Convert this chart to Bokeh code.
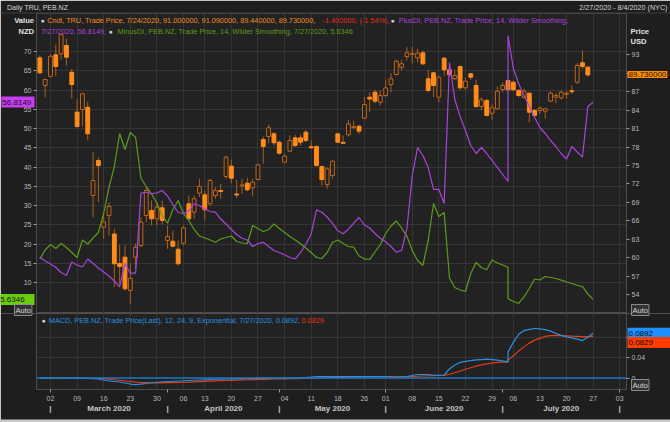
import numpy as np
import pandas as pd
from bokeh.plotting import figure
from bokeh.models import (ColumnDataSource, Range1d, LinearAxis, FixedTicker, Label, Span)
from bokeh.layouts import column, row
from bokeh.embed import file_html
from bokeh.resources import INLINE

# ---------------- data ----------------
# TRU daily candles, 2020-02-27 .. 2020-07-24 (US trading days)
opens = [92.51, 88.01, 89.47, 93.00, 93.16, 94.51, 90.17, 83.69, 84.11, 84.48, 70.12, 75.81, 64.97, 66.87, 63.86, 59.07, 60.09, 54.68, 60.09, 61.99,
         66.87, 67.68, 66.33, 68.12, 62.81, 62.69, 61.39, 62.37, 68.77, 67.41, 70.50, 70.24, 68.77, 70.12, 70.94, 73.21, 74.89, 70.37, 71.67, 72.12,
         71.37, 72.72, 79.23, 79.71, 80.15, 78.79, 75.54, 77.33, 79.50, 79.50, 80.41, 78.06, 78.09, 74.83, 71.91, 73.37, 80.15, 78.77, 80.00, 81.15,
         81.39, 82.69, 86.11, 86.92, 85.29, 86.38, 88.17, 89.80, 90.98, 92.72, 93.08, 92.51, 93.33, 89.10, 90.07, 86.11, 92.45, 90.56, 89.10, 91.10,
         87.63, 89.91, 88.01, 84.59, 85.57, 83.50, 84.22, 87.36, 88.82, 88.54, 87.20, 86.11, 86.76, 83.94, 83.94, 83.83, 85.46, 86.11, 86.01, 86.58,
         87.16, 88.54, 91.70, 91.00]
highs = [92.89, 89.10, 93.05, 94.67, 96.41, 95.60, 90.72, 85.73, 86.82, 85.41, 77.16, 76.35, 67.03, 68.98, 64.71, 62.15, 61.99, 59.02, 62.32, 66.59,
         71.47, 69.31, 69.03, 69.31, 65.24, 64.43, 62.81, 65.24, 70.12, 70.12, 72.84, 70.94, 72.84, 71.47, 72.02, 76.63, 75.93, 72.67, 72.84, 73.00,
         72.84, 75.28, 79.71, 81.67, 80.41, 79.07, 76.90, 79.88, 80.04, 80.04, 80.80, 79.07, 78.25, 74.99, 74.72, 75.81, 80.25, 79.88, 82.43, 82.32,
         81.62, 86.11, 86.92, 87.31, 87.20, 88.94, 90.01, 92.19, 92.19, 94.24, 94.30, 93.98, 93.70, 90.56, 90.17, 89.63, 92.61, 91.54, 90.56, 91.26,
         89.26, 90.07, 88.94, 86.11, 85.85, 84.92, 87.85, 88.54, 88.94, 88.82, 87.47, 87.47, 86.92, 84.22, 84.59, 84.38, 87.08, 86.76, 87.20, 87.08,
         88.01, 91.63, 93.70, 91.09]
lows = [89.91, 86.11, 89.36, 89.52, 92.19, 91.26, 85.85, 81.13, 81.39, 79.07, 66.59, 69.03, 63.08, 63.62, 55.21, 55.65, 54.68, 52.51, 58.25, 61.71,
        65.78, 65.24, 65.24, 65.41, 61.45, 61.71, 58.74, 61.99, 66.06, 66.33, 69.85, 66.06, 68.50, 69.59, 69.59, 72.84, 72.12, 69.68, 70.40, 70.82,
        69.96, 72.56, 75.28, 78.63, 78.25, 76.79, 75.37, 77.16, 77.98, 78.25, 78.79, 77.71, 74.83, 71.75, 71.21, 72.84, 78.63, 78.53, 79.71, 80.97,
        80.15, 82.59, 83.67, 85.13, 84.76, 86.11, 86.92, 89.63, 90.45, 92.07, 91.59, 91.80, 91.31, 86.92, 86.11, 85.29, 89.63, 89.36, 88.94, 87.31,
        87.31, 88.94, 84.38, 83.94, 82.97, 82.43, 84.06, 86.92, 87.20, 87.08, 86.11, 85.85, 82.04, 82.85, 83.41, 82.59, 85.29, 85.13, 85.68, 85.85,
        86.66, 88.28, 90.72, 89.44]
closes = [90.07, 88.98, 92.77, 91.10, 96.30, 92.61, 88.17, 81.34, 86.66, 80.15, 72.56, 74.99, 65.81, 68.33, 59.02, 58.58, 54.95, 56.63, 61.71, 65.78,
          70.94, 66.33, 68.22, 66.06, 63.46, 61.88, 59.02, 64.87, 66.33, 69.59, 71.59, 67.80, 72.56, 70.94, 70.77, 76.35, 72.94, 70.20, 71.83, 71.05,
          72.29, 75.11, 78.09, 81.13, 78.69, 77.00, 76.51, 79.07, 78.25, 78.79, 79.07, 77.89, 74.99, 72.72, 74.46, 75.70, 78.79, 78.61, 81.78, 81.31,
          80.58, 84.92, 85.81, 85.46, 86.38, 87.63, 89.10, 91.96, 91.54, 93.33, 93.24, 93.26, 91.54, 87.20, 88.01, 89.36, 90.56, 89.75, 89.63, 87.63,
          88.71, 89.36, 84.59, 85.68, 83.13, 84.38, 87.08, 88.01, 87.31, 87.31, 86.38, 87.08, 83.67, 83.13, 84.32, 84.22, 86.76, 86.38, 86.92, 86.74,
          87.00, 91.26, 91.10, 89.73]

# PEB.NZ indicators, 2020-02-27 .. 2020-07-27 (includes NZ trading day 2020-07-03)
plus_di = [16.63, 15.59, 14.82, 13.91, 12.61, 11.83, 15.34, 14.56, 14.04, 16.12, 14.95, 13.78, 12.74, 11.70, 10.40, 8.85, 14.95, 12.43, 12.43,
           33.20, 33.44, 33.07, 33.25, 33.90, 32.48, 30.27, 28.19, 27.93, 28.58, 30.45, 30.01, 29.10, 28.45, 28.27, 26.50, 25.21, 23.78, 22.48, 21.49,
           21.05, 19.36, 20.14, 20.45, 19.36, 18.32, 17.80, 17.21, 16.51, 16.12, 17.80, 19.88, 22.61, 28.89, 28.24, 27.02, 25.39, 23.44, 22.69, 23.86,
           25.44, 26.89, 24.95, 24.17, 22.74, 21.52, 20.61, 19.36, 17.91, 18.32, 24.04, 37.80, 45.07, 42.99, 39.88, 34.17, 34.17, 30.53, 67.15, 57.54,
           53.12, 49.49, 45.59, 43.51, 45.07, 43.51, 41.70, 39.88, 38.06, 36.24, 74.16,
           65.59, 61.69, 58.58, 55.85, 52.86, 50.27, 48.71, 46.89, 45.33, 43.51, 42.09, 45.33, 43.90, 42.61, 55.72, 56.8149]
minus_di = [16.12, 18.45, 19.88, 18.84, 20.14, 19.10, 17.80, 16.51, 21.05, 20.01, 21.57, 23.00, 27.93, 34.69, 40.14, 48.71, 44.55, 48.97, 47.67,
            37.15, 34.95, 33.00, 30.66, 27.41, 25.42, 28.97, 31.31, 27.93, 26.11, 23.78, 22.09, 21.57, 21.05, 20.48, 21.31, 21.70, 22.09, 20.66, 20.27,
            20.14, 24.81, 24.04, 23.26, 23.78, 25.21, 24.04, 23.00, 21.96, 21.05, 20.06, 18.97, 17.80, 16.51, 16.24, 17.80, 20.40, 21.05, 20.14, 19.36,
            19.18, 16.89, 16.17, 15.99, 17.93, 19.88, 22.74, 24.68, 25.98, 24.17, 22.00, 18.32, 15.73, 14.43, 20.92, 30.53, 27.15, 28.19, 11.18, 8.71,
            8.06, 7.67, 12.35, 15.20, 13.91, 13.31, 15.85, 15.07, 14.56, 13.98, 5.78,
            5.08, 4.56, 6.25, 8.46, 10.92, 10.66, 11.57, 11.31, 11.05, 10.61, 10.14, 9.75, 9.29, 8.92, 7.03, 5.6346]
macd = [0.0003, 0.0002, 0.0001, 0.0, 0.0, -0.0002, -0.0004, -0.0006, -0.0008, -0.0010, -0.0012,
        -0.002, -0.004, -0.006, -0.007, -0.008, -0.010, -0.012, -0.013, -0.012, -0.011, -0.0095, -0.0085, -0.0075, -0.007,
        -0.0065, -0.006, -0.0055, -0.005, -0.0045, -0.004, -0.0035, -0.003, -0.0025, -0.0022, -0.002, -0.0017, -0.0014, -0.0012,
        -0.001, -0.0009, -0.0008, -0.0007, -0.0006, -0.0005, -0.0004, -0.0003, -0.0002, 0.0, 0.0003, 0.001, 0.002, 0.003, 0.003,
        0.003, 0.003, 0.003, 0.003, 0.003, 0.003, 0.003, 0.003, 0.003, 0.003, 0.003, 0.003, 0.002, 0.002, 0.002, 0.003, 0.005,
        0.007, 0.007, 0.007, 0.0055, 0.0055, 0.006, 0.018, 0.026, 0.031, 0.033, 0.0345, 0.036, 0.0368, 0.0375, 0.0368, 0.0355,
        0.034, 0.0323, 0.052,
        0.071, 0.087, 0.0945, 0.097, 0.0986, 0.098, 0.0965, 0.0935, 0.089, 0.085, 0.082, 0.080, 0.0775, 0.0745, 0.081, 0.0892]
signal = [0.0003, 0.0003, 0.0002, 0.0001, 0.0, 0.0, -0.0001, -0.0002, -0.0003, -0.0005, -0.0007,
          -0.001, -0.0015, -0.0025, -0.0035, -0.0045, -0.0058, -0.007, -0.0082, -0.009, -0.0094, -0.0096, -0.0096, -0.0096, -0.0094,
          -0.0092, -0.009, -0.0087, -0.0083, -0.0078, -0.0073, -0.0068, -0.0063, -0.0058, -0.0054, -0.005, -0.0046, -0.0042, -0.0038,
          -0.0035, -0.0032, -0.0029, -0.0026, -0.0023, -0.002, -0.0018, -0.0016, -0.0014, -0.0012, -0.001, -0.0008, -0.0005, 0.0, 0.0005,
          0.0008, 0.001, 0.0012, 0.0014, 0.0016, 0.0018, 0.002, 0.0022, 0.0023, 0.0024, 0.0025, 0.0026, 0.0026, 0.0025, 0.0024, 0.0025,
          0.003, 0.0035, 0.004, 0.0045, 0.0048, 0.005, 0.0052, 0.0075, 0.0105, 0.014, 0.0175, 0.0205, 0.0235, 0.026, 0.028, 0.0295, 0.031,
          0.0318, 0.0323, 0.036,
          0.044, 0.054, 0.062, 0.0695, 0.0755, 0.079, 0.083, 0.0845, 0.0848, 0.0845, 0.0841, 0.0835, 0.083, 0.0825, 0.0825, 0.0829]

month_names = ["March 2020", "April 2020", "May 2020", "June 2020", "July 2020"]

# ---------------- calendar / x positions ----------------
bdays = pd.bdate_range("2020-02-20", "2020-08-10")
us_holidays = pd.to_datetime(["2020-04-10", "2020-05-25", "2020-07-03"])
cal = bdays[~bdays.isin(us_holidays)]
origin = cal.get_loc(pd.Timestamp("2020-03-02"))


def pos(dates):
    d = pd.DatetimeIndex(pd.to_datetime(dates))
    return np.searchsorted(cal.values, d.values, side="right") - 1 - origin


candle_dates = cal[(cal >= "2020-02-27") & (cal <= "2020-07-24")]
ind_dates = cal[(cal >= "2020-02-27") & (cal <= "2020-07-27")].append(pd.DatetimeIndex(["2020-07-03"])).sort_values()
cx = pos(candle_dates)
ix = pos(ind_dates)

span_days = cal[(cal >= "2020-03-02") & (cal <= "2020-08-03")]
wk_first = span_days.to_series().groupby(span_days.to_period("W")).min()
week_ticks = [int(v) for v in pos(wk_first.values)]
week_labels = {int(p): d.strftime("%d") for p, d in zip(pos(wk_first.values), wk_first)}
mo_first = span_days.to_series().groupby(span_days.to_period("M")).min()
month_bounds = [int(v) for v in pos(mo_first.values)]
month_centers = [(a + b) / 2 for a, b in zip(month_bounds[:-1], month_bounds[1:])]

# ---------------- style ----------------
BG = "#1e1e1e"
PLOT_BG = "#222222"
GRID = "#353535"
FRAME = "#4c4c4c"
AX_TXT = "#b8b8b8"
FONT = "Liberation Sans"
UP_LINE = "#c0661a"
DOWN_FILL = "#ff8c1a"
WICK = "#ac5e1a"
PLUS_C = "#a844dc"
MINUS_C = "#5c9c1c"
MACD_C = "#2a8fe0"
SIG_C = "#e0401a"
ICON = "#c9ced6"

W, H1, H2 = 670, 313, 109
LB, RB, TB, BB = 36, 44, 13, 33
X0 = -2.63
PXD = 5.32
X1 = X0 + (W - LB - RB) / PXD
L0, L1 = 1.96, 79.87          # left value axis (bottom, top)
P0, P1 = 50.93, 99.72          # price axis
M0, M1 = -0.0229, 0.1285       # macd axis

xr = Range1d(X0, X1)


def fx(px):
    return X0 + (px - LB) / PXD


def fy1(py):
    return L1 - (py - TB) * (L1 - L0) / (H1 - TB)


def fy2(py):
    return M1 - (py - H1) * (M1 - M0) / (H2 - BB)


def lab(fig, x, y, text, color, size=7.3, align="left", bold=False, bg=None, border=None, pad=0):
    kw = dict(x=x, y=y, text=text, text_color=color, text_font_size=f"{size}px",
              text_font=FONT, text_align=align, text_baseline="middle",
              text_font_style="bold" if bold else "normal")
    if bg is not None:
        kw["background_fill_color"] = bg
    if border is not None:
        kw["border_line_color"] = border
    if pad:
        kw["padding"] = pad
    fig.add_layout(Label(**kw))


# ---------------- main panel ----------------
p1 = figure(width=W, height=H1, x_range=xr, y_range=Range1d(L0, L1), output_backend="svg",
            toolbar_location=None, min_border_left=LB, min_border_right=RB, min_border_top=TB,
            min_border_bottom=0, background_fill_color=PLOT_BG, border_fill_color=BG,
            outline_line_color=FRAME, x_axis_location=None, y_axis_location="left")
p1.extra_y_ranges = {"price": Range1d(P0, P1)}

ly = p1.yaxis[0]
ly.ticker = FixedTicker(ticks=list(range(10, 75, 5)))
ry = LinearAxis(y_range_name="price", ticker=FixedTicker(ticks=list(range(54, 94, 3))))
p1.add_layout(ry, "right")
for ax in (ly, ry):
    ax.major_label_text_font_size = "7px"
    ax.major_label_text_color = AX_TXT
    ax.major_label_text_font = FONT
    ax.axis_line_color = FRAME
    ax.major_tick_line_color = "#9a9a9a"
    ax.major_tick_in = 0
    ax.major_tick_out = 3
    ax.minor_tick_line_color = None
    ax.major_label_standoff = 2

p1.ygrid.ticker = FixedTicker(ticks=list(range(10, 75, 5)))
p1.ygrid.grid_line_color = GRID
p1.xgrid.ticker = FixedTicker(ticks=week_ticks)
p1.xgrid.grid_line_color = GRID

up = [c >= o for o, c in zip(opens, closes)]
src_up = ColumnDataSource(dict(x=[x for x, u in zip(cx, up) if u],
                               o=[v for v, u in zip(opens, up) if u],
                               c=[v for v, u in zip(closes, up) if u]))
src_dn = ColumnDataSource(dict(x=[x for x, u in zip(cx, up) if not u],
                               o=[v for v, u in zip(opens, up) if not u],
                               c=[v for v, u in zip(closes, up) if not u]))
src_all = ColumnDataSource(dict(x=cx, h=highs, l=lows))

p1.segment(x0="x", y0="l", x1="x", y1="h", source=src_all, line_color=WICK, line_width=1, y_range_name="price")
p1.vbar(x="x", width=0.72, top="c", bottom="o", source=src_up, fill_color=PLOT_BG, line_color=UP_LINE,
        line_width=1, y_range_name="price")
p1.vbar(x="x", width=0.72, top="o", bottom="c", source=src_dn, fill_color=DOWN_FILL, line_color=DOWN_FILL,
        line_width=1, y_range_name="price")

p1.line(ix, minus_di, line_color=MINUS_C, line_width=1.2)
p1.line(ix, plus_di, line_color=PLUS_C, line_width=1.2)

# legend rows inside the price frame
lab(p1, fx(40), fy1(19.5), "\u25CF", ICON, size=7)
lab(p1, fx(46.7), fy1(19.5), "Cndl, TRU, Trade Price, 7/24/2020, 91.000000, 91.090000, 89.440000, 89.730000,", "#f08c1e")
lab(p1, fx(322), fy1(19.5), "-1.400000, (-1.54%),", "#e8281e")
lab(p1, fx(390), fy1(19.5), "\u25CF", ICON, size=7)
lab(p1, fx(398.3), fy1(19.5), "PlusDI, PEB.NZ, Trade Price,  14, Wilder Smoothing,", PLUS_C)
lab(p1, fx(40.7), fy1(30.5), "7/27/2020, 56.8149,", PLUS_C)
lab(p1, fx(108), fy1(30.5), "\u25CF", ICON, size=7)
lab(p1, fx(117), fy1(30.5), "MinusDI, PEB.NZ, Trade Price,  14, Wilder Smoothing, 7/27/2020, 5.6346", MINUS_C)

# ---------------- MACD panel ----------------
p2 = figure(width=W, height=H2, x_range=xr, y_range=Range1d(M0, M1), output_backend="svg",
            toolbar_location=None, min_border_left=LB, min_border_right=RB, min_border_top=0,
            min_border_bottom=BB, background_fill_color=PLOT_BG, border_fill_color=BG,
            outline_line_color=FRAME, x_axis_location="below", y_axis_location="right")

my = p2.yaxis[0]
my.ticker = FixedTicker(ticks=[0, 0.04, 0.08])
my.major_label_overrides = {0: "0", 0.04: "0.04", 0.08: "0.08"}
my.major_label_text_font_size = "7px"
my.major_label_text_color = AX_TXT
my.major_label_text_font = FONT
my.axis_line_color = FRAME
my.major_tick_line_color = "#9a9a9a"
my.major_tick_in = 0
my.major_tick_out = 3
my.minor_tick_line_color = None
my.major_label_standoff = 2

xa = p2.xaxis[0]
xa.ticker = FixedTicker(ticks=week_ticks, minor_ticks=month_bounds)
xa.major_label_overrides = week_labels
xa.major_label_text_font_size = "7px"
xa.major_label_text_color = AX_TXT
xa.major_label_text_font = FONT
xa.major_tick_line_color = None
xa.major_tick_out = 0
xa.major_tick_in = 0
xa.minor_tick_line_color = "#9a9a9a"
xa.minor_tick_out = 3
xa.minor_tick_in = 0
xa.axis_line_color = FRAME
xa.major_label_standoff = 3

month_ticks = month_bounds + month_centers
month_over = {b: "|" for b in month_bounds}
month_over.update({c: n for c, n in zip(month_centers, month_names)})
xb = LinearAxis(ticker=FixedTicker(ticks=month_ticks), major_label_overrides=month_over)
xb.major_label_text_font_size = "8px"
xb.major_label_text_font_style = "bold"
xb.major_label_text_color = "#c4c4c4"
xb.major_label_text_font = FONT
xb.major_tick_line_color = None
xb.major_tick_out = 0
xb.major_tick_in = 0
xb.minor_tick_line_color = None
xb.axis_line_color = None
xb.major_label_standoff = 0
p2.add_layout(xb, "below")

p2.ygrid.ticker = FixedTicker(ticks=[0.04, 0.08])
p2.ygrid.grid_line_color = GRID
p2.xgrid.ticker = FixedTicker(ticks=week_ticks)
p2.xgrid.grid_line_color = GRID

p2.add_layout(Span(location=0, dimension="width", line_color="#1c78c8", line_width=1.5))
p2.line(ix, signal, line_color=SIG_C, line_width=1.2)
p2.line(ix, macd, line_color=MACD_C, line_width=1.2)

lab(p2, fx(41), fy2(319.5), "\u25CF", ICON, size=7)
lab(p2, fx(48.3), fy2(319.5), "MACD, PEB.NZ, Trade Price(Last),  12, 24, 9, Exponential, 7/27/2020, 0.0892,", MACD_C)
lab(p2, fx(301), fy2(319.5), "0.0829", "#e8301e")

# ---------------- overlay for texts in the axis / header areas ----------------
ov = figure(width=W, height=H1 + H2, x_range=Range1d(0, W), y_range=Range1d(H1 + H2, 0),
            output_backend="svg", toolbar_location=None, min_border=0,
            min_border_left=0, min_border_right=0, min_border_top=0, min_border_bottom=0,
            x_axis_location=None, y_axis_location=None, background_fill_alpha=0,
            border_fill_alpha=0, outline_line_color=None)
ov.grid.visible = False

ov.add_layout(Span(location=12.5, dimension="width", line_color="#3e3e3e", line_width=1))
ov.add_layout(Span(location=313, dimension="width", line_color="#505050", line_width=1))
ov.add_layout(Span(location=420.5, dimension="width", line_color="#c8c8c8", line_width=3))

lab(ov, 6.5, 6.5, "Daily TRU, PEB.NZ", "#d6d6d6", size=7)
lab(ov, 667, 6.5, "2/27/2020 - 8/4/2020 (NYC)", "#d6d6d6", size=7.2, align="right")
lab(ov, 33.5, 19.5, "Value", "#e0e0e0", size=7.6, align="right", bold=True)
lab(ov, 33.5, 30.5, "NZD", "#e0e0e0", size=7.6, align="right", bold=True)
lab(ov, 630, 30.5, "Price", "#e0e0e0", size=7.6, bold=True)
lab(ov, 630, 40.5, "USD", "#e0e0e0", size=7.6, bold=True)
lab(ov, 34, 101.5, " 56.8149", "#141414", size=8, align="right", bg="#c83cf0", pad=1)
lab(ov, 34, 299, "    5.6346", "#141414", size=8, align="right", bg="#6ccc10", pad=1)
lab(ov, 627, 74, "89.730000", "#141414", size=8, bg="#ff8c00", pad=1)
lab(ov, 14, 309.5, "Auto", "#d4d4d4", size=7.5, bg="#333333", border="#8a8a8a", pad=1)
lab(ov, 631, 309.5, "Auto", "#d4d4d4", size=7.5, bg="#333333", border="#8a8a8a", pad=1)
lab(ov, 627, 332.7, "0.0892        ", "#0a0a0a", size=8, bg="#1e90ff", pad=1)
lab(ov, 627, 342, "0.0829        ", "#0a0a0a", size=8, bg="#ff3c00", pad=1)
lab(ov, 631, 384.5, "Auto", "#d4d4d4", size=7.5, bg="#333333", border="#8a8a8a", pad=1)

wrapped = row(ov, margin=(-(H1 + H2), 0, 0, 0))
layout = column(column(p1, p2, spacing=0), wrapped, spacing=0)
open("out.html", "w").write(file_html(layout, INLINE))
